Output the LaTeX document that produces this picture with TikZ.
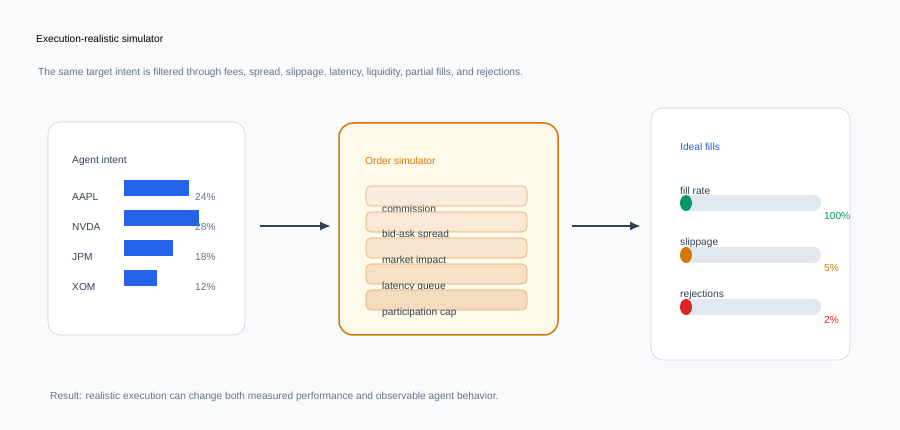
\documentclass[tikz,border=0pt]{standalone}
\usepackage{fontspec}
\setmainfont{Liberation Sans}
\usetikzlibrary{arrows.meta}
\definecolor{bgc}{HTML}{F8FAFC}
\definecolor{ink}{HTML}{334155}
\definecolor{muted}{HTML}{64748B}
\definecolor{cardline}{HTML}{CBD5E1}
\definecolor{barblue}{HTML}{2563EB}
\definecolor{simorange}{HTML}{D97706}
\definecolor{simfill}{HTML}{FEF9E8}
\definecolor{stepline}{HTML}{E2AA70}
\definecolor{track}{HTML}{E2E8F0}
\definecolor{okgreen}{HTML}{059669}
\definecolor{badred}{HTML}{DC2626}
\tikzset{
  txt/.style={anchor=west, inner sep=0pt, font=\fontsize{10.2}{12}\selectfont, text=ink},
  card/.style={draw=cardline, fill=white, rounded corners=12pt, line width=0.6pt},
  flow/.style={-{Latex[length=11pt,width=9pt]}, draw=ink, line width=2pt},
}
\begin{document}
\begin{tikzpicture}[x=1pt,y=-1pt]
  % canvas
  \fill[bgc] (0,0) rectangle (900,430);
  \useasboundingbox (0,0) rectangle (900,430);

  % header and footer
  \node[txt, text=black] (title) at (36,39) {Execution-realistic simulator};
  \node[txt, text=muted] (sub) at (38,73) {The same target intent is filtered through fees, spread, slippage, latency, liquidity, partial fills, and rejections.};
  \node[txt, text=muted] (foot) at (50,397) {Result: realistic execution can change both measured performance and observable agent behavior.};

  % agent intent card
  \draw[card] (48,122) rectangle (245,335);
  \coordinate (intent) at (245,226);
  \node[txt] (intenthead) at (72,161) {Agent intent};
  \foreach \name/\w/\pct [count=\i from 0] in {AAPL/65/24, NVDA/75/28, JPM/49/18, XOM/33/12} {
    \node[txt] (tick\i) at (72,197+30*\i) {\name};
    \fill[barblue] (124,180+30*\i) rectangle ++(\w,16);
    \node[txt, text=muted] (pct\i) at (195,197+30*\i) {\pct\%};
  }

  % order simulator
  \draw[draw=simorange, fill=simfill, rounded corners=14pt, line width=1.5pt] (339,123) rectangle (558,335);
  \coordinate (simin) at (339,226);
  \coordinate (simout) at (558,226);
  \node[txt, text=simorange] (simhead) at (365,161) {Order simulator};
  \foreach \step/\tone [count=\i from 0] in {commission/14, bid-ask spread/17, market impact/20, latency queue/23, participation cap/26} {
    \draw[draw=stepline, fill=simorange!\tone!white, rounded corners=5pt, line width=0.6pt] (366,186+26*\i) rectangle ++(161,20);
    \node[txt] (step\i) at (382,209+26*\i) {\step};
  }

  % ideal fills card
  \draw[card] (651,108) rectangle (850,360);
  \coordinate (fills) at (651,226);
  \node[txt, text=barblue] (fillhead) at (680,147) {Ideal fills};
  \foreach \metric/\val/\col [count=\i from 0] in {fill rate/100\%/okgreen, slippage/5\%/simorange, rejections/2\%/badred} {
    \fill[track, rounded corners=8pt] (680,195+52*\i) rectangle ++(141,16);
    \node[txt] (metric\i) at (680,191+52*\i) {\metric};
    \fill[\col] (686,203+52*\i) ellipse (6pt and 8pt);
    \node[txt, text=\col] (val\i) at (824,216+52*\i) {\val};
  }

  % flow arrows
  \draw[flow, shorten <=15pt, shorten >=8pt] (intent) -- (simin);
  \draw[flow, shorten <=14pt, shorten >=10pt] (simout) -- (fills);
\end{tikzpicture}
\end{document}
